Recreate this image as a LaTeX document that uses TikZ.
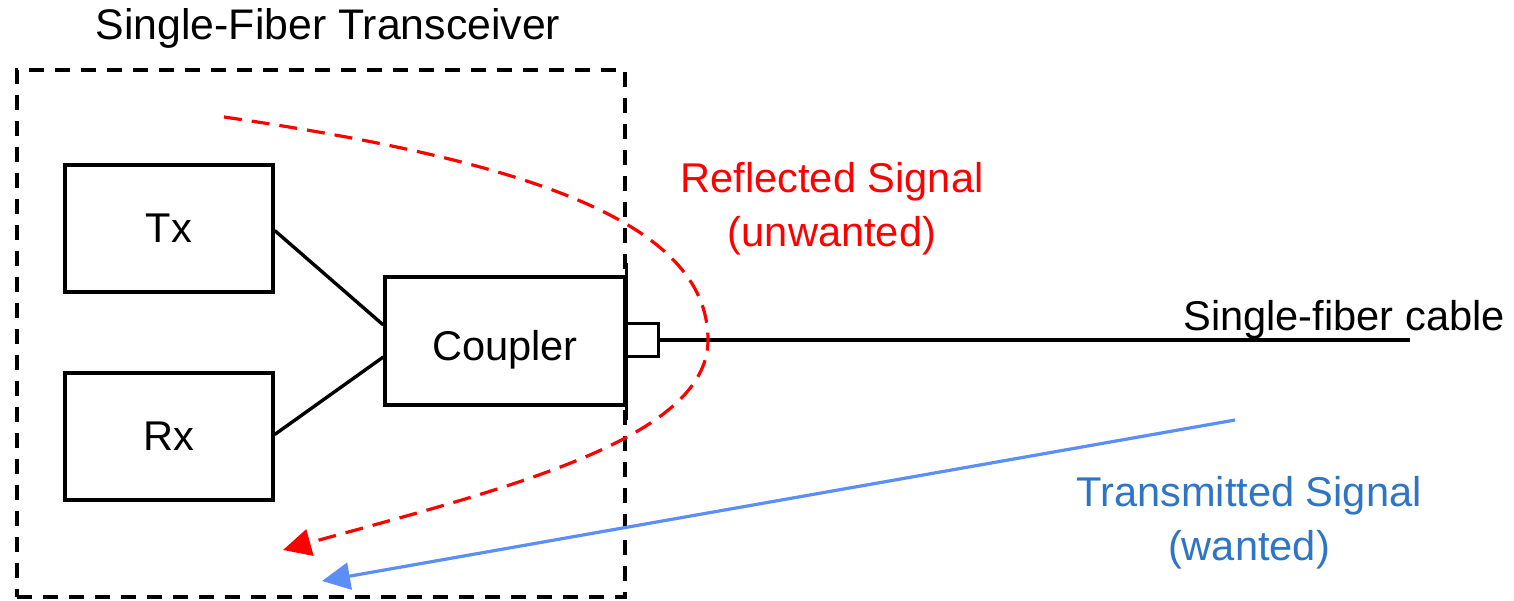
\documentclass[tikz,border=0pt]{standalone}
\usepackage{fontspec}
\setmainfont{Liberation Sans}
\usetikzlibrary{arrows.meta,calc}
\definecolor{sigred}{HTML}{FF0000}
\definecolor{sigblue}{HTML}{5B8EF7}
\definecolor{txtblue}{HTML}{2E75C6}
\begin{document}
\begin{tikzpicture}[x=0.5pt,y=-0.5pt,
  lbl/.style={font=\fontsize{20.8}{25}\selectfont, inner sep=0pt, align=center},
  blk/.style={draw=black, line width=1.7pt, minimum width=104pt, minimum height=63.5pt, inner sep=0pt, font=\fontsize{20.8}{25}\selectfont},
  wire/.style={draw=black, line width=1.7pt},
  frame/.style={draw=black, line width=1.6pt, dash pattern=on 7.5pt off 5.5pt, minimum width=304pt, minimum height=263.5pt, inner sep=0pt},
  refl/.style={draw=sigred, line width=1.6pt, dash pattern=on 9pt off 5pt, -{Triangle[length=14pt,width=13.5pt]}},
  trans/.style={draw=sigblue, line width=1.6pt, -{Triangle[length=14pt,width=13.5pt]}}
]
\useasboundingbox (0,0) rectangle (1514,600);
\node[frame] (box) at (321,333.5) {};
\node[lbl, font=\fontsize{21.4}{25}\selectfont] (title) at (328,28) {Single-Fiber Transceiver};
\node[blk] (tx) at (169,228.5) {Tx};
\node[blk] (rx) at (169,436.5) {Rx};
\node[blk, minimum width=120pt, minimum height=64pt, text height=19.7pt, text depth=0pt] (coupler) at (505,341) {Coupler};
\draw[wire] ($(coupler.north east)+(0,-12)$) -- ($(coupler.south east)+(0,13)$);
\node[draw=black, line width=1.7pt, minimum width=16pt, minimum height=16.5pt, inner sep=0pt, anchor=west] (conn) at (625,340) {};
\coordinate (cableend) at (1410,340);
\draw[wire] (conn.east) -- (cableend);
\node[lbl, anchor=base] (cablelbl) at (1344,330) {Single-fiber cable};
\draw[wire] ($(tx.east)+(0,2)$) -- ($(coupler.west)+(0,-16)$);
\draw[wire] ($(rx.east)+(0,-2)$) -- ($(coupler.west)+(0,16)$);
\coordinate (rstart) at (224,117);
\coordinate (rturn) at (708,340);
\coordinate (rend) at (283,550);
\draw[refl] (rstart) .. controls (520,160) and (708,220) .. (rturn) .. controls (708,440) and (500,490) .. (rend);
\node[lbl, text=sigred] (refllbl) at (832,209) {Reflected Signal\\[2pt](unwanted)};
\coordinate (tstart) at (1235,420);
\coordinate (tend) at (322,581);
\draw[trans] (tstart) -- (tend);
\node[lbl, text=txtblue] (translbl) at (1249,523) {Transmitted Signal\\[2pt](wanted)};
\end{tikzpicture}
\end{document}
